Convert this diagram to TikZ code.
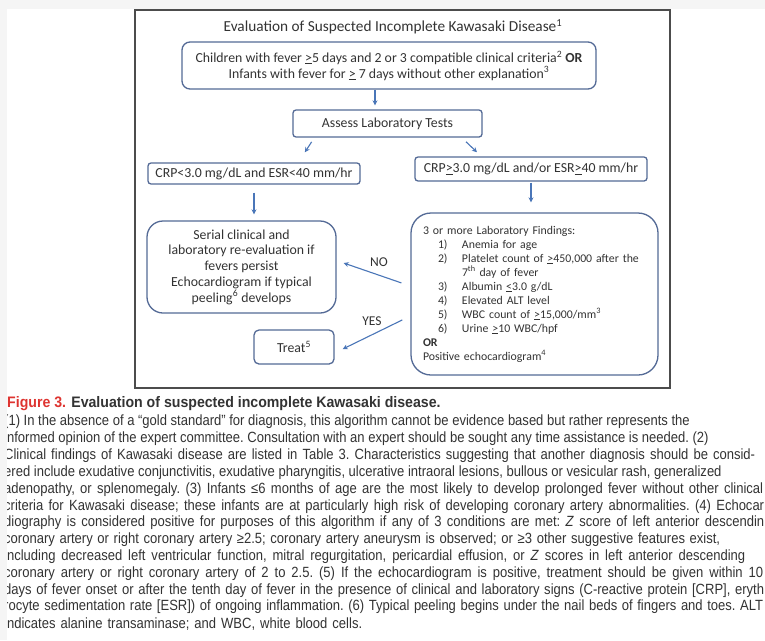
\documentclass[tikz,border=0pt]{standalone}
\usepackage{fontspec}
\setmainfont{Carlito}
\newfontfamily\capfont[FakeStretch=0.88]{Liberation Sans}
\newfontfamily\captitlefont[FakeStretch=0.93]{Liberation Sans}
\usetikzlibrary{arrows.meta,positioning}
\definecolor{boxblue}{RGB}{84,106,150}
\definecolor{arblue}{RGB}{74,118,184}
\definecolor{txtgray}{RGB}{51,51,51}
\definecolor{figred}{RGB}{222,52,48}
\newcommand{\labitem}[2]{\hspace*{15pt}\makebox[24pt][l]{#1}#2}
\newcommand{\capjust}[2]{\makebox[#1][s]{#2}}

\begin{document}
\begin{tikzpicture}[
  x=1pt, y=-1pt,
  box/.style={draw=boxblue, line width=1.3pt, rounded corners=3pt, align=center,
              font=\fontsize{13.8}{15.8}\selectfont, text=txtgray, inner sep=0pt},
  bigbox/.style={box, rounded corners=16pt},
  ar/.style={-{Stealth[length=5pt,width=5pt]}, line width=1.1pt, arblue},
  lbl/.style={font=\fontsize{13.5}{14}\selectfont, text=txtgray, inner sep=0pt},
  capline/.style={anchor=west, inner sep=0pt, text=txtgray,
                  font=\capfont\fontsize{14.8}{16}\selectfont\frenchspacing}
]
\useasboundingbox (0,0) rectangle (765,640);
\fill[gray!8] (0,0) rectangle (765,640);
\fill[white] (7,9) rectangle (765,640);
\draw[gray!60!black, line width=1.4pt] (135,10) rectangle (670,388);

% flow chart
\node[lbl, font=\fontsize{15.3}{16}\selectfont] (title) at (393,27)
  {Evaluation of Suspected Incomplete Kawasaki Disease\textsuperscript{1}};
\node[box, rounded corners=8pt, minimum width=414pt, minimum height=47pt] (crit) at (389,65.5)
  {Children with fever \underline{>}5 days and 2 or 3 compatible clinical criteria\textsuperscript{2} \textbf{OR}\\
   Infants with fever for \underline{>} 7 days without other explanation\textsuperscript{3}};
\node[box, minimum width=189pt, minimum height=27pt] (assess) at (387.5,123.5)
  {Assess Laboratory Tests};
\node[box, minimum width=212pt, minimum height=21pt] (crplow) at (254,173.5)
  {CRP<3.0 mg/dL and ESR<40 mm/hr};
\node[box, minimum width=232pt, minimum height=24pt] (crphigh) at (531,169)
  {CRP\underline{>}3.0 mg/dL and/or ESR\underline{>}40 mm/hr};
\node[bigbox, minimum width=189pt, minimum height=92pt] (serial) at (241.5,267)
  {Serial clinical and\\laboratory re-evaluation if\\fevers persist\\
   Echocardiogram if typical\\peeling\textsuperscript{6} develops};
\node[bigbox, rounded corners=20pt, minimum width=247pt, minimum height=162pt,
      text width=223pt, inner xsep=12pt, align=left,
      font=\fontsize{11.8}{14}\selectfont] (labs) at (534.5,294)
  {3 or more Laboratory Findings:\\
   \labitem{1)}{Anemia for age}\\
   \labitem{2)}{Platelet count of \underline{>}450,000 after the}\\
   \labitem{}{7\textsuperscript{th} day of fever}\\
   \labitem{3)}{Albumin \underline{<}3.0 g/dL}\\
   \labitem{4)}{Elevated ALT level}\\
   \labitem{5)}{WBC count of \underline{>}15,000/mm\textsuperscript{3}}\\
   \labitem{6)}{Urine \underline{>}10 WBC/hpf}\\
   \textbf{OR}\\
   Positive echocardiogram\textsuperscript{4}};
\node[box, rounded corners=5pt, minimum width=80pt, minimum height=34pt] (treat) at (294,347)
  {Treat\textsuperscript{5}};
\node[lbl] (no) at (379,262) {NO};
\node[lbl] (yes) at (372,321) {YES};

\draw[ar, shorten >=4pt] ([xshift=-14pt]crit.south) -- ([xshift=-12.5pt]assess.north);
\draw[ar, shorten <=5pt, shorten >=12pt] ([xshift=22pt]assess.south west) -- ([xshift=151pt]crplow.north west);
\draw[ar, shorten <=6pt, shorten >=6pt] ([xshift=-21pt]assess.south east) -- ([xshift=67pt]crphigh.north west);
\draw[ar, shorten <=8pt, shorten >=6pt] (crplow.south) -- (crplow.south |- serial.north);
\draw[ar, shorten <=1pt, shorten >=10pt] (crphigh.south) -- (crphigh.south |- labs.north);
\draw[ar, shorten <=9.5pt, shorten >=7.4pt] ([yshift=8pt]labs.west) -- ([yshift=6.4pt]serial.east);
\draw[ar, shorten <=9pt, shorten >=9pt] ([yshift=-22pt]labs.west) -- ([yshift=-6pt]treat.east);

% caption, cut off at both sides as in the page
\begin{scope}
\clip (7,390) rectangle (765,640);
\node[capline, font=\captitlefont\bfseries\fontsize{15.2}{16}\selectfont] (captitle) at (7,404)
  {\textcolor{figred}{Figure 3.} Evaluation of suspected incomplete Kawasaki disease.};
\node[capline] (cap1) at (4,422.0) {(1) In the absence of a “gold standard” for diagnosis, this algorithm cannot be evidence based but rather represents the};
\node[capline] (cap2) at (4,438.8) {informed opinion of the expert committee. Consultation with an expert should be sought any time assistance is needed. (2)};
\node[capline] (cap3) at (4,455.7) {\capjust{751pt}{Clinical findings of Kawasaki disease are listed in Table 3. Characteristics suggesting that another diagnosis should be consid-}};
\node[capline] (cap4) at (4,472.5) {ered include exudative conjunctivitis, exudative pharyngitis, ulcerative intraoral lesions, bullous or vesicular rash, generalized};
\node[capline] (cap5) at (4,489.3) {\capjust{759pt}{adenopathy, or splenomegaly. (3) Infants ≤6 months of age are the most likely to develop prolonged fever without other clinical}};
\node[capline] (cap6) at (4,506.2) {\capjust{760pt}{criteria for Kawasaki disease; these infants are at particularly high risk of developing coronary artery abnormalities. (4) Echocar}};
\node[capline] (cap7) at (4,523.0) {\capjust{760pt}{diography is considered positive for purposes of this algorithm if any of 3 conditions are met: \textit{Z} score of left anterior descendin}};
\node[capline] (cap8) at (4,539.8) {\capjust{716pt}{coronary artery or right coronary artery ≥2.5; coronary artery aneurysm is observed; or ≥3 other suggestive features exist,}};
\node[capline] (cap9) at (4,556.6) {\capjust{741pt}{including decreased left ventricular function, mitral regurgitation, pericardial effusion, or \textit{Z} scores in left anterior descending}};
\node[capline] (cap10) at (4,573.5) {\capjust{759pt}{coronary artery or right coronary artery of 2 to 2.5. (5) If the echocardiogram is positive, treatment should be given within 10}};
\node[capline] (cap11) at (4,590.3) {\capjust{760pt}{days of fever onset or after the tenth day of fever in the presence of clinical and laboratory signs (C-reactive protein [CRP], eryth}};
\node[capline] (cap12) at (4,607.1) {\capjust{759pt}{rocyte sedimentation rate [ESR]) of ongoing inflammation. (6) Typical peeling begins under the nail beds of fingers and toes. ALT}};
\node[capline] (cap13) at (4,624.0) {\capjust{358pt}{indicates alanine transaminase; and WBC, white blood cells.}};
\end{scope}

\end{tikzpicture}
\end{document}
